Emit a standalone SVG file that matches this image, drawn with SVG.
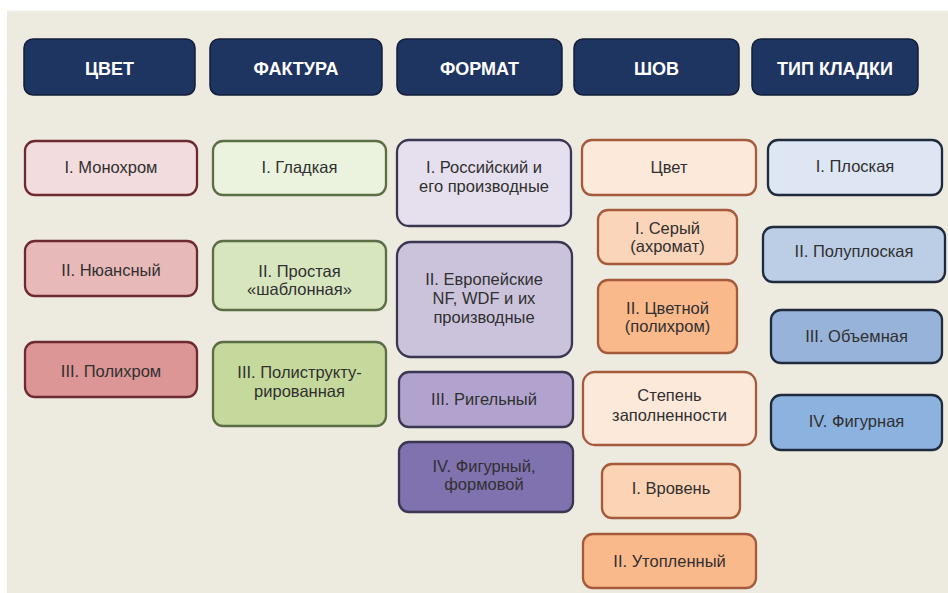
<svg xmlns="http://www.w3.org/2000/svg" width="948" height="593" viewBox="0 0 948 593">
<style>
  .hd rect { fill: #1f3561; stroke: #131e38; stroke-width: 1.5; }
  .hd text { fill: #ffffff; font-family: "Liberation Sans", Arial, sans-serif; font-weight: bold; font-size: 18px; text-anchor: middle; }
  .nd rect { stroke-width: 2.3; }
  .nd text { fill: #303030; font-family: "Liberation Sans", Arial, sans-serif; font-size: 16.5px; text-anchor: middle; }
  .c1 rect { stroke: #6e2a33; }
  .c2 rect { stroke: #5b6e45; }
  .c3 rect { stroke: #3b3652; }
  .c4 rect { stroke: #a65a3c; }
  .c5 rect { stroke: #1f2b3d; }
</style>
<rect x="0" y="0" width="948" height="593" fill="#ffffff"/>
<rect x="7" y="11" width="941" height="582" fill="#edeae0"/>

<g id="header-tsvet" class="hd"><rect x="24" y="39" width="171" height="56" rx="9"/><text x="109.5" y="75">ЦВЕТ</text></g>
<g id="header-faktura" class="hd"><rect x="210" y="39" width="172" height="56" rx="9"/><text x="296" y="75">ФАКТУРА</text></g>
<g id="header-format" class="hd"><rect x="397" y="39" width="165" height="56" rx="9"/><text x="479.5" y="75">ФОРМАТ</text></g>
<g id="header-shov" class="hd"><rect x="574" y="39" width="165" height="56" rx="9"/><text x="656.5" y="75">ШОВ</text></g>
<g id="header-tip" class="hd"><rect x="752" y="39" width="166" height="56" rx="9"/><text x="835" y="75">ТИП КЛАДКИ</text></g>

<g id="tsvet-1" class="nd c1"><rect x="25" y="141" width="172" height="54" rx="10" fill="#f2dcdd"/><text x="111" y="173">I. Монохром</text></g>
<g id="tsvet-2" class="nd c1"><rect x="25" y="241" width="172" height="55" rx="10" fill="#e8b9b9"/><text x="111" y="276">II. Нюансный</text></g>
<g id="tsvet-3" class="nd c1"><rect x="25" y="342" width="172" height="55" rx="10" fill="#dd9696"/><text x="111" y="377">III. Полихром</text></g>

<g id="faktura-1" class="nd c2"><rect x="213" y="141" width="173" height="54" rx="10" fill="#ebf2de"/><text x="299.5" y="173">I. Гладкая</text></g>
<g id="faktura-2" class="nd c2"><rect x="213" y="241" width="173" height="69" rx="10" fill="#d8e6bf"/><text x="299.5" y="277">II. Простая</text><text x="299.5" y="295">«шаблонная»</text></g>
<g id="faktura-3" class="nd c2"><rect x="213" y="342" width="173" height="84" rx="10" fill="#c6d99c"/><text x="299.5" y="378">III. Полиструкту-</text><text x="299.5" y="397">рированная</text></g>

<g id="format-1" class="nd c3"><rect x="397" y="140" width="174" height="86" rx="12" fill="#e6e0ee"/><text x="484" y="173">I. Российский и</text><text x="484" y="192">его производные</text></g>
<g id="format-2" class="nd c3"><rect x="397" y="242" width="175" height="115" rx="14" fill="#cbc3dc"/><text x="484" y="285">II. Европейские</text><text x="484" y="304">NF, WDF и их</text><text x="484" y="323">производные</text></g>
<g id="format-3" class="nd c3"><rect x="399" y="372" width="174" height="55" rx="10" fill="#b1a3cd"/><text x="484" y="405">III. Ригельный</text></g>
<g id="format-4" class="nd c3"><rect x="399" y="442" width="174" height="70" rx="10" fill="#8071af"/><text x="484" y="472">IV. Фигурный,</text><text x="484" y="490">формовой</text></g>

<g id="shov-tsvet" class="nd c4"><rect x="582" y="140" width="174" height="55" rx="10" fill="#fde9da"/><text x="669" y="173">Цвет</text></g>
<g id="shov-seryi" class="nd c4"><rect x="598" y="210" width="139" height="54" rx="10" fill="#fbd5b9"/><text x="667.5" y="234">I. Серый</text><text x="667.5" y="252">(ахромат)</text></g>
<g id="shov-tsvetnoi" class="nd c4"><rect x="598" y="280" width="139" height="73" rx="10" fill="#f9b98b"/><text x="667.5" y="314">II. Цветной</text><text x="667.5" y="332">(полихром)</text></g>
<g id="shov-stepen" class="nd c4"><rect x="583" y="372" width="173" height="73" rx="12" fill="#fde9da"/><text x="669.5" y="401">Степень</text><text x="669.5" y="421">заполненности</text></g>
<g id="shov-vroven" class="nd c4"><rect x="602" y="464" width="138" height="54" rx="10" fill="#fbd4b5"/><text x="671" y="494">I. Вровень</text></g>
<g id="shov-utoplen" class="nd c4"><rect x="583" y="534" width="173" height="54" rx="10" fill="#fab98b"/><text x="669.5" y="567">II. Утопленный</text></g>

<g id="tip-1" class="nd c5"><rect x="768" y="140" width="174" height="55" rx="10" fill="#dde6f2"/><text x="855" y="172">I. Плоская</text></g>
<g id="tip-2" class="nd c5"><rect x="763" y="227" width="182" height="55" rx="10" fill="#bccde6"/><text x="854" y="257">II. Полуплоская</text></g>
<g id="tip-3" class="nd c5"><rect x="771" y="310" width="171" height="53" rx="10" fill="#98b3d9"/><text x="856.5" y="342">III. Объемная</text></g>
<g id="tip-4" class="nd c5"><rect x="771" y="395" width="171" height="55" rx="10" fill="#8cb3e0"/><text x="856.5" y="427">IV. Фигурная</text></g>

<g id="connectors"></g>
</svg>
